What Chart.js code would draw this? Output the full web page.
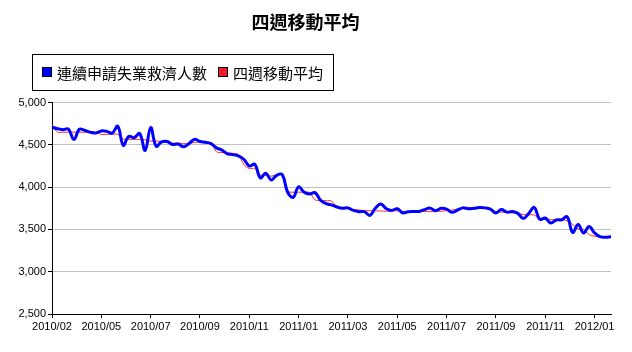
<!DOCTYPE html>
<html>
<head>
<meta charset="utf-8">
<script src="https://cdn.jsdelivr.net/npm/chart.js@4"></script>
<style>
  body { margin: 0; background: #fff; }
</style>
</head>
<body>
<canvas id="claims" width="632" height="352"></canvas>
<script>
// week ending dates (Saturday)
const weeks = [
  "2010/02/27", "2010/03/06", "2010/03/13", "2010/03/20", "2010/03/27",
  "2010/04/03", "2010/04/10", "2010/04/17", "2010/04/24", "2010/05/01",
  "2010/05/08", "2010/05/15", "2010/05/22", "2010/05/29", "2010/06/05",
  "2010/06/12", "2010/06/19", "2010/06/26", "2010/07/03", "2010/07/10",
  "2010/07/17", "2010/07/24", "2010/07/31", "2010/08/07", "2010/08/14",
  "2010/08/21", "2010/08/28", "2010/09/04", "2010/09/11", "2010/09/18",
  "2010/09/25", "2010/10/02", "2010/10/09", "2010/10/16", "2010/10/23",
  "2010/10/30", "2010/11/06", "2010/11/13", "2010/11/20", "2010/11/27",
  "2010/12/04", "2010/12/11", "2010/12/18", "2010/12/25", "2011/01/01",
  "2011/01/08", "2011/01/15", "2011/01/22", "2011/01/29", "2011/02/05",
  "2011/02/12", "2011/02/19", "2011/02/26", "2011/03/05", "2011/03/12",
  "2011/03/19", "2011/03/26", "2011/04/02", "2011/04/09", "2011/04/16",
  "2011/04/23", "2011/04/30", "2011/05/07", "2011/05/14", "2011/05/21",
  "2011/05/28", "2011/06/04", "2011/06/11", "2011/06/18", "2011/06/25",
  "2011/07/02", "2011/07/09", "2011/07/16", "2011/07/23", "2011/07/30",
  "2011/08/06", "2011/08/13", "2011/08/20", "2011/08/27", "2011/09/03",
  "2011/09/10", "2011/09/17", "2011/09/24", "2011/10/01", "2011/10/08",
  "2011/10/15", "2011/10/22", "2011/10/29", "2011/11/05", "2011/11/12",
  "2011/11/19", "2011/11/26", "2011/12/03", "2011/12/10", "2011/12/17",
  "2011/12/24", "2011/12/31", "2012/01/07", "2012/01/14", "2012/01/21",
  "2012/01/28", "2012/02/04", "2012/02/11",
];

// 連續申請失業救濟人數 (千人)
const claims = [
  4710, 4690, 4680, 4685, 4565, 4685, 4670, 4650, 4640, 4665,
  4660, 4640, 4720, 4495, 4600, 4585, 4635, 4435, 4705, 4485,
  4535, 4540, 4505, 4510, 4478, 4515, 4565, 4540, 4530, 4515,
  4465, 4440, 4395, 4385, 4370, 4330, 4250, 4270, 4110, 4165,
  4085, 4140, 4150, 3940, 3880, 4005, 3940, 3920, 3935, 3845,
  3805, 3790, 3765, 3750, 3755, 3725, 3710, 3710, 3665, 3750,
  3800, 3745, 3725, 3745, 3695, 3710, 3713, 3713, 3735, 3752,
  3722, 3750, 3740, 3702, 3730, 3755, 3745, 3750, 3758, 3755,
  3740, 3695, 3735, 3705, 3712, 3690, 3628, 3690, 3760, 3620,
  3635, 3576, 3612, 3615, 3650, 3464, 3558, 3457, 3536, 3460,
  3415, 3408, 3415,
];

// 四週移動平均
const avg4w = [
  4745, 4650, 4650, 4650, 4650, 4650, 4650, 4650, 4645, 4625,
  4625, 4625, 4625, 4570, 4565, 4565, 4565, 4560, 4545, 4545,
  4540, 4530, 4520, 4520, 4515, 4515, 4530, 4530, 4530, 4525,
  4420, 4410, 4405, 4400, 4385, 4270, 4220, 4220, 4145, 4140,
  4130, 4145, 4145, 3955, 3940, 3940, 3940, 3935, 3850, 3845,
  3840, 3835, 3765, 3755, 3745, 3735, 3730, 3722, 3722, 3720,
  3718, 3715, 3720, 3720, 3715, 3713, 3713, 3713, 3713, 3713,
  3715, 3715, 3722, 3730, 3740, 3750, 3754, 3754, 3754, 3754,
  3745, 3710, 3705, 3700, 3695, 3690, 3675, 3672, 3670, 3620,
  3618, 3615, 3615, 3615, 3600, 3560, 3505, 3500, 3440, 3420,
  3415, 3415, 3415,
];

const yTicks = [2500, 3000, 3500, 4000, 4500, 5000];

// boxed legend under the title
const legendBox = {
  id: "legendBox",
  afterDraw(chart) {
    const ctx = chart.ctx;
    const cy = 72;
    let x = 42;
    ctx.save();
    ctx.font = '15px "Noto Sans CJK TC"';
    ctx.textBaseline = "middle";
    chart.data.datasets.forEach((ds) => {
      ctx.fillStyle = ds.legendColor;
      ctx.fillRect(x, cy - 5, 10, 10);
      ctx.strokeStyle = "#000";
      ctx.lineWidth = 1;
      ctx.strokeRect(x + 0.5, cy - 4.5, 9, 9);
      ctx.fillStyle = "#000";
      ctx.fillText(ds.label, x + 15, cy + 1);
      x += 15 + ctx.measureText(ds.label).width + 11;
    });
    ctx.strokeStyle = "#000";
    ctx.strokeRect(32.5, 54.5, x - 11 + 10 - 32, 36);
    ctx.restore();
  },
};

const data = {
  labels: weeks,
  datasets: [
    {
      label: "連續申請失業救濟人數",
      data: claims,
      borderColor: "#0000ff",
      legendColor: "#0000ff",
      borderWidth: 3,
      tension: 0.4,
      pointRadius: 0,
    },
    {
      label: "四週移動平均",
      data: avg4w,
      borderColor: "rgba(255, 0, 0, 0.85)",
      legendColor: "#ee1c24",
      borderWidth: 1,
      tension: 0.4,
      pointRadius: 0,
    },
  ],
};

const options = {
  responsive: false,
  animation: false,
  layout: {
    padding: { left: 0, right: 21, top: 0, bottom: 0 },
  },
  scales: {
    x: {
      afterFit: (scale) => {
        scale.height = 38;
      },
      afterBuildTicks: (scale) => {
        scale.ticks = scale.ticks.filter((t) => t.value % 9 === 0);
      },
      grid: {
        drawOnChartArea: false,
        tickColor: "#000",
        tickLength: 4,
      },
      border: { color: "#000" },
      ticks: {
        autoSkip: false,
        maxRotation: 0,
        minRotation: 0,
        padding: 2,
        color: "#000",
        font: { family: "Liberation Sans", size: 11 },
        callback: function (value) {
          return this.getLabelForValue(value).slice(0, 7);
        },
      },
    },
    y: {
      min: yTicks[0],
      max: yTicks[yTicks.length - 1],
      afterFit: (scale) => {
        scale.width = 52;
      },
      grid: {
        color: "#c0c0c0",
        tickColor: "#000",
        tickLength: 4,
      },
      border: { color: "#000" },
      ticks: {
        stepSize: yTicks[1] - yTicks[0],
        padding: 2,
        color: "#000",
        font: { family: "Liberation Sans", size: 11 },
        callback: (value) => value.toLocaleString("en-US"),
      },
    },
  },
  plugins: {
    legend: {
      display: false,
    },
    tooltip: { enabled: false },
    title: {
      display: true,
      text: "四週移動平均",
      color: "#000",
      font: { family: "Noto Sans CJK TC", size: 18, weight: "bold" },
      padding: { top: 11, bottom: 70 },
    },
  },
};

const config = {
  type: "line",
  data,
  options,
  plugins: [legendBox],
};
const ctx = document.getElementById("claims");
new Chart(ctx, config);
</script>
</body>
</html>
